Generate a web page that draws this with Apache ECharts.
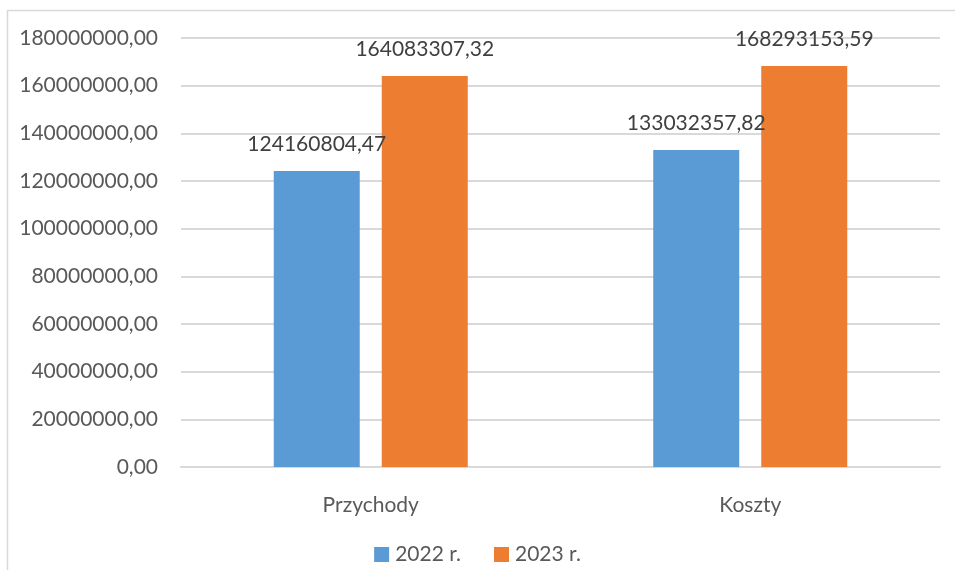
<!DOCTYPE html>
<html>
<head>
<meta charset="utf-8">
<script src="https://cdn.jsdelivr.net/npm/echarts@6/dist/echarts.min.js"></script>
<style>
  html, body { margin: 0; padding: 0; background: #fff; }
  #chart { width: 955px; height: 570px; }
</style>
</head>
<body>
<div id="chart"></div>
<script>
// categories and values
let categories = ['Przychody', 'Koszty'];
let values2022 = [124160804.47, 133032357.82];
let values2023 = [164083307.32, 168293153.59];
let seriesNames = ['2022 r.', '2023 r.'];

function plNumber(v) {
    return Number(v).toFixed(2).replace('.', ',');
}

let chart = echarts.init(document.getElementById('chart'));

let labelStyle = {
    show: true,
    position: 'top',
    distance: 16,
    color: '#404040',
    fontFamily: 'Lato',
    fontSize: 21,
    formatter: function (p) { return plNumber(p.value); }
};

chart.setOption({
    animation: false,
    textStyle: { fontFamily: 'Lato' },
    graphic: [{
        type: 'rect',
        shape: { x: 7.5, y: 10.5, width: 1000, height: 600 },
        style: { fill: 'none', stroke: '#d9d9d9', lineWidth: 1.5 },
        silent: true
    }],
    grid: { left: 181, right: 15, top: 38, bottom: 103 },
    legend: {
        data: seriesNames,
        top: 539,
        left: 'center',
        itemWidth: 15,
        itemHeight: 15,
        itemGap: 33,
        icon: 'rect',
        textStyle: { color: '#595959', fontSize: 21, fontFamily: 'Lato', padding: [0, 0, 0, 1] }
    },
    xAxis: {
        type: 'category',
        data: categories,
        axisLine: { show: true, lineStyle: { color: '#d9d9d9', width: 2 } },
        axisTick: { show: false },
        axisLabel: { color: '#595959', fontSize: 21, fontFamily: 'Lato', margin: 28 }
    },
    yAxis: {
        type: 'value',
        min: 0,
        max: 180000000,
        interval: 20000000,
        axisLine: { show: false },
        axisTick: { show: false },
        splitLine: { lineStyle: { color: '#d9d9d9', width: 2 } },
        axisLabel: {
            color: '#595959', fontSize: 21, fontFamily: 'Lato', margin: 23,
            formatter: plNumber
        }
    },
    series: [{
        name: seriesNames[0],
        type: 'bar',
        data: values2022,
        barWidth: 86,
        barGap: '25.6%',
        itemStyle: { color: '#5B9BD5' },
        label: labelStyle
    }, {
        name: seriesNames[1],
        type: 'bar',
        data: values2023,
        barWidth: 86,
        barGap: '25.6%',
        itemStyle: { color: '#ED7D31' },
        label: labelStyle
    }]
});
</script>
</body>
</html>
